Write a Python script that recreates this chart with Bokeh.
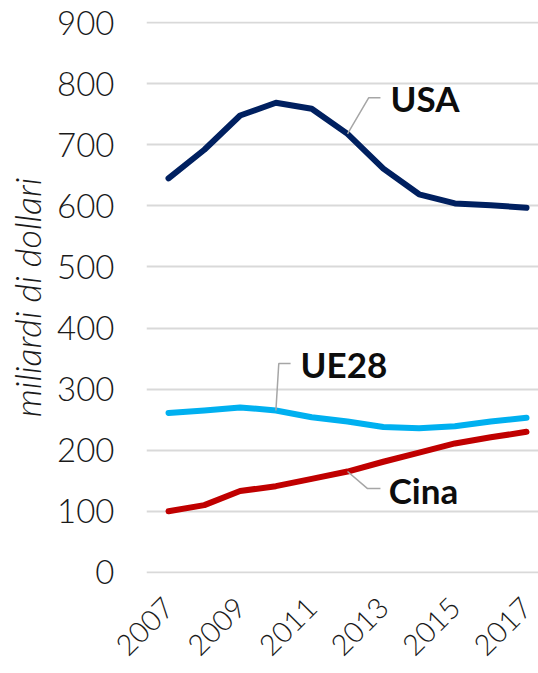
from bokeh.plotting import figure
from bokeh.models import Range1d, FixedTicker
from bokeh.core.properties import value
from bokeh.embed import file_html
from bokeh.resources import INLINE
import math

years = [2007, 2008, 2009, 2010, 2011, 2012, 2013, 2014, 2015, 2016, 2017]
usa = [645, 692, 748, 769, 759, 718, 661, 619, 604, 601, 597]
ue28 = [261, 265, 270, 265, 254, 247, 238, 236, 239, 247, 253]
cina = [100, 110, 133, 141, 153, 165, 181, 196, 211, 221, 230]
y_ticks = [0, 100, 200, 300, 400, 500, 600, 700, 800, 900]
x_ticks = [2007, 2009, 2011, 2013, 2015, 2017]
series_names = ["USA", "UE28", "Cina"]

FONT = "Lato"
LIGHT = "Lato Light, Lato"

p = figure(width=538, height=673, output_backend="svg", toolbar_location=None,
           x_range=Range1d(2006.385, 2017.335), y_range=Range1d(-2, 902),
           min_border_left=146, min_border_right=0, min_border_top=21,
           min_border_bottom=100)
p.outline_line_color = None
p.background_fill_color = "white"
p.border_fill_color = "white"

p.xgrid.grid_line_color = None
p.ygrid.grid_line_color = "#d9d9d9"
p.ygrid.grid_line_width = 2
p.yaxis.ticker = FixedTicker(ticks=y_ticks)
p.xaxis.ticker = FixedTicker(ticks=x_ticks)

for ax in (p.xaxis[0], p.yaxis[0]):
    ax.axis_line_color = None
    ax.major_tick_line_color = None
    ax.minor_tick_line_color = None
    ax.major_tick_out = 0
    ax.major_tick_in = 0
    ax.major_label_text_font = LIGHT
    ax.major_label_text_color = "#1a1a1a"

p.yaxis.major_label_text_font_size = "33px"
p.yaxis.major_label_standoff = 32
p.yaxis.axis_label = "miliardi di dollari"
p.yaxis.axis_label_text_font = LIGHT
p.yaxis.axis_label_text_font_style = "italic"
p.yaxis.axis_label_text_font_size = "36px"
p.yaxis.axis_label_text_color = "#1a1a1a"
p.yaxis.axis_label_standoff = 5

p.xaxis.major_label_text_font_size = "29px"
p.xaxis.major_label_orientation = math.pi / 4
p.xaxis.major_label_standoff = 29

colors = {"USA": "#002060", "UE28": "#00b0f0", "Cina": "#c00000"}
data = {"USA": usa, "UE28": ue28, "Cina": cina}
for name in series_names:
    p.line(years, data[name], line_color=colors[name], line_width=6,
           line_join="round", line_cap="round")

# callout labels: anchor year index, leader elbow offsets (years, value), text offset
callouts = [
    ("USA", 5, (0.59, 59), (0.92, 59), (1.2, 59)),
    ("UE28", 3, (0.08, 77), (0.41, 77), (0.69, 76)),
    ("Cina", 5, (0.56, -28), (0.92, -28), (1.15, -31)),
]
for name, idx, e1, e2, t in callouts:
    x0, y0 = years[idx], data[name][idx]
    p.line([x0, x0 + e1[0], x0 + e2[0]], [y0, y0 + e1[1], y0 + e2[1]],
           line_color="#a6a6a6", line_width=1.5)
    p.text(x=[x0 + t[0]], y=[y0 + t[1]], text=[name], text_font=value(FONT),
           text_font_style="bold", text_font_size="35px", text_color="#0d0d0d",
           text_baseline="middle", text_align="left")

open("out.html", "w").write(file_html(p, INLINE))
